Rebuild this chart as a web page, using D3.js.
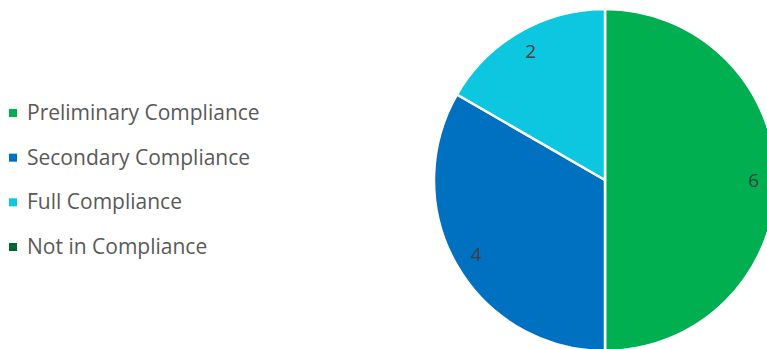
<!DOCTYPE html>
<html><head><meta charset="utf-8">
<script src="https://cdn.jsdelivr.net/npm/d3@7"></script>
<style>body{margin:0;background:#fff;overflow:hidden}</style>
</head><body>
<svg id="c" width="767" height="349"></svg>
<script>
const categories = ["Preliminary Compliance","Secondary Compliance","Full Compliance","Not in Compliance"];
const values = [6,4,2,0];
const colors = ["#00B050","#0070C0","#0DC6DF","#00662F"];

const svg = d3.select("#c");
const cx = 605, cy = 180, r = 171;
const pie = d3.pie().sort(null).value(d => d.v);
const arcs = pie(categories.map((c,i)=>({c, v: values[i], col: colors[i]})));
const arc = d3.arc().innerRadius(0).outerRadius(r);
const labelArc = d3.arc().innerRadius(r*0.87).outerRadius(r*0.87);
const g = svg.append("g").attr("transform",`translate(${cx},${cy})`);
g.selectAll("path").data(arcs.filter(a=>a.data.v>0)).join("path")
  .attr("d", arc).attr("fill", d=>d.data.col)
  .attr("stroke","#fff").attr("stroke-width",2.5).attr("stroke-linejoin","round");
g.selectAll("text").data(arcs.filter(a=>a.data.v>0)).join("text")
  .attr("transform", d=>`translate(${labelArc.centroid(d)})`)
  .attr("text-anchor","middle").attr("dy","0.36em")
  .attr("font-family","'Open Sans', sans-serif").attr("font-size",19)
  .attr("fill","#404040").text(d=>d.data.v);

const y = d3.scalePoint().domain(categories).range([113,247]);
const lg = svg.append("g");
const items = lg.selectAll("g").data(categories).join("g")
  .attr("transform", d=>`translate(0,${y(d)})`);
items.append("rect").attr("x",9).attr("y",-4).attr("width",8).attr("height",8)
  .attr("fill",(d,i)=>colors[i]);
items.append("text").attr("x",27).attr("y",7)
  .attr("font-family","'Open Sans', sans-serif").attr("font-size",21)
  .attr("fill","#595959").text(d=>d);
</script>
</body></html>
